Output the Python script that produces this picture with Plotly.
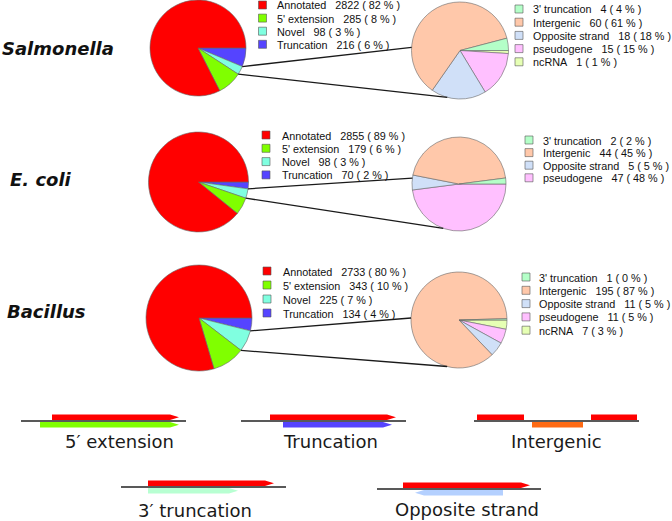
import math
import plotly.graph_objects as go

W, H = 672, 521

# ---------------- data ----------------
species = ["Salmonella", "E. coli", "Bacillus"]

left_labels = ["Annotated", "5' extension", "Novel", "Truncation"]
left_counts_salmonella = [2822, 285, 98, 216]
left_pct_salmonella = [82, 8, 3, 6]
left_counts_ecoli = [2855, 179, 98, 70]
left_pct_ecoli = [89, 6, 3, 2]
left_counts_bacillus = [2733, 343, 225, 134]
left_pct_bacillus = [80, 10, 7, 4]

right_labels_salmonella = ["3' truncation", "Intergenic", "Opposite strand", "pseudogene", "ncRNA"]
right_counts_salmonella = [4, 60, 18, 15, 1]
right_pct_salmonella = [4, 61, 18, 15, 1]
right_labels_ecoli = ["3' truncation", "Intergenic", "Opposite strand", "pseudogene"]
right_counts_ecoli = [2, 44, 5, 47]
right_pct_ecoli = [2, 45, 5, 48]
right_labels_bacillus = ["3' truncation", "Intergenic", "Opposite strand", "pseudogene", "ncRNA"]
right_counts_bacillus = [1, 195, 11, 11, 7]
right_pct_bacillus = [0, 87, 5, 5, 3]

diagram_labels = ["5\u2032 extension", "Truncation", "Intergenic", "3\u2032 truncation", "Opposite strand"]

# ---------------- styles ----------------
left_colors = ["#FF0000", "#80FF00", "#80FFE0", "#5544FF"]
right_color_map = {
    "3' truncation": "#B4FFC8",
    "Intergenic": "#FFC8AA",
    "Opposite strand": "#D0E0F8",
    "pseudogene": "#FFC0FF",
    "ncRNA": "#E6FFB4",
}

rows = [
    dict(name=species[0], lc=left_counts_salmonella, lp=left_pct_salmonella,
         rl=right_labels_salmonella, rc=right_counts_salmonella, rp=right_pct_salmonella,
         label_x=0, label_base=55,
         lpie=(198, 48, 48), rpie=(460, 50.5, 48.5),
         lleg=(258.5, 277, 5, 13.1), rleg=(515, 533, 9, 13.2),
         rang=(176.4, 254.8)),
    dict(name=species[1], lc=left_counts_ecoli, lp=left_pct_ecoli,
         rl=right_labels_ecoli, rc=right_counts_ecoli, rp=right_pct_ecoli,
         label_x=8, label_base=186,
         lpie=(198.5, 182, 50), rpie=(459, 184, 47),
         lleg=(262, 282, 135, 13.3), rleg=(525, 543, 140, 12.6),
         rang=(172.9, 250.4)),
    dict(name=species[2], lc=left_counts_bacillus, lp=left_pct_bacillus,
         rl=right_labels_bacillus, rc=right_counts_bacillus, rp=right_pct_bacillus,
         label_x=5, label_base=318,
         lpie=(199, 318, 53), rpie=(459, 320, 48),
         lleg=(263, 283, 271, 14.0), rleg=(522, 539, 277, 13.3),
         rang=(177.6, 255.7)),
]

LEG_FONT = dict(family="Liberation Sans, Arial, sans-serif", size=10.8, color="#111111")
SP = "\u00a0" * 3


def fx(x):
    return x / W


def fy(y):
    return 1 - y / H


def domain(cx, cy, r):
    return dict(x=[fx(cx - r), fx(cx + r)], y=[fy(cy + r), fy(cy - r)])


fig = go.Figure()
shapes = []
annotations = []

for row in rows:
    lcx, lcy, lr = row["lpie"]
    rcx, rcy, rr = row["rpie"]
    # slices laid out counter-clockwise from 3 o'clock (drawn clockwise in reverse order)
    fig.add_trace(go.Pie(
        values=row["lc"][::-1], labels=left_labels[::-1], domain=domain(lcx, lcy, lr),
        sort=False, direction="clockwise", rotation=90,
        marker=dict(colors=left_colors[::-1], line=dict(color="#666666", width=0.6)),
        textinfo="none", showlegend=False, name=row["name"]))
    rcols = [right_color_map[l] for l in row["rl"]]
    fig.add_trace(go.Pie(
        values=row["rc"][::-1], labels=row["rl"][::-1], domain=domain(rcx, rcy, rr),
        sort=False, direction="clockwise", rotation=90,
        marker=dict(colors=rcols[::-1], line=dict(color="#666666", width=0.6)),
        textinfo="none", showlegend=False, name=row["name"] + " novel"))

    # species label
    annotations.append(dict(
        x=fx(row["label_x"]), y=fy(row["label_base"] - 6.5), xref="paper", yref="paper",
        xanchor="left", yanchor="middle", showarrow=False,
        text="<b><i>%s</i></b>" % row["name"],
        font=dict(family="DejaVu Sans", size=18, color="#111111")))

    # legends
    for (sqx, tx, y0, dy), labs, cnts, pcts, cols in [
        (row["lleg"], left_labels, row["lc"], row["lp"], left_colors),
        (row["rleg"], row["rl"], row["rc"], row["rp"], rcols),
    ]:
        for i, (lab, c, p, col) in enumerate(zip(labs, cnts, pcts, cols)):
            yc = y0 + i * dy
            shapes.append(dict(type="rect", xref="paper", yref="paper",
                               x0=fx(sqx), x1=fx(sqx + 8), y0=fy(yc + 4), y1=fy(yc - 4),
                               fillcolor=col, line=dict(color="#555555", width=0.6)))
            annotations.append(dict(
                x=fx(tx - 2), y=fy(yc + 0.5), xref="paper", yref="paper",
                xanchor="left", yanchor="middle", showarrow=False,
                text="%s%s%d ( %d %% )" % (lab, SP, c, p), font=LEG_FONT))

    # connecting lines: from the Novel slice of left pie to the right pie
    tot = sum(row["lc"])
    f_trunc = row["lc"][3] / tot
    f_novel = row["lc"][2] / tot
    a1 = -f_trunc * 2 * math.pi
    a2 = -(f_trunc + f_novel) * 2 * math.pi
    for a, b in [(a1, row["rang"][0]), (a2, row["rang"][1])]:
        x0 = lcx + lr * math.cos(a)
        y0 = lcy - lr * math.sin(a)
        br = math.radians(b)
        x1 = rcx + rr * math.cos(br)
        y1 = rcy - rr * math.sin(br)
        shapes.append(dict(type="line", xref="paper", yref="paper",
                           x0=fx(x0), y0=fy(y0), x1=fx(x1), y1=fy(y1),
                           line=dict(color="#1a1a1a", width=1.3)))

# ---------------- schematic diagrams ----------------
RED = "#FF0000"


def P(x, y):
    return "%.5f,%.5f" % (fx(x), fy(y))


def bar(x0, x1, y0, y1, color, head=None, head_len=9):
    ym = (y0 + y1) / 2
    if head == "right":
        path = "M%s L%s L%s L%s L%s Z" % (P(x0, y0), P(x1 - head_len, y0), P(x1, ym),
                                         P(x1 - head_len, y1), P(x0, y1))
    elif head == "left":
        path = "M%s L%s L%s L%s L%s Z" % (P(x0 + head_len, y0), P(x1, y0), P(x1, y1),
                                         P(x0 + head_len, y1), P(x0, ym))
    else:
        path = "M%s L%s L%s L%s Z" % (P(x0, y0), P(x1, y0), P(x1, y1), P(x0, y1))
    shapes.append(dict(type="path", xref="paper", yref="paper", path=path,
                       fillcolor=color, line=dict(width=0)))


def baseline(x0, x1, y):
    shapes.append(dict(type="line", xref="paper", yref="paper",
                       x0=fx(x0), x1=fx(x1), y0=fy(y), y1=fy(y),
                       line=dict(color="#222222", width=1.5)))


# 5' extension
bar(52, 179, 414.5, 420, RED, "right")
bar(40, 179, 422, 427.5, "#80FF00", "right")
baseline(21, 186, 421)
# Truncation
bar(270, 396, 414.5, 420, RED, "right")
bar(283, 392, 422, 427.5, "#5544FF", "right")
baseline(241, 406, 421)
# Intergenic
bar(477, 524, 414.5, 420, RED)
bar(591, 637, 414.5, 420, RED)
bar(532, 583, 422, 427.5, "#FF6A14")
baseline(474, 639, 421)
# 3' truncation
bar(148, 274, 480.5, 486, RED, "right")
bar(148, 238, 488, 493.5, "#B8FFD2", "right")
baseline(121, 286, 487)
# Opposite strand
bar(403, 530, 482.5, 488, RED, "right")
bar(415, 503, 490, 495.5, "#B4D0FF", "left")
baseline(377, 541, 489)

diag_pos = [(119, 448), (330, 448), (556, 448), (195, 516.5), (467, 516)]
for lab, (cx, base) in zip(diagram_labels, diag_pos):
    annotations.append(dict(
        x=fx(cx), y=fy(base - 6.5), xref="paper", yref="paper",
        xanchor="center", yanchor="middle", showarrow=False, text=lab,
        font=dict(family="DejaVu Sans", size=18, color="#1a1a1a")))

fig.update_layout(
    width=W, height=H, margin=dict(l=0, r=0, t=0, b=0),
    paper_bgcolor="white", plot_bgcolor="white",
    showlegend=False, shapes=shapes, annotations=annotations,
)

fig.write_html("out.html", config={"displayModeBar": False},
               post_script="document.body.style.margin='0px';document.body.style.overflow='hidden';")
